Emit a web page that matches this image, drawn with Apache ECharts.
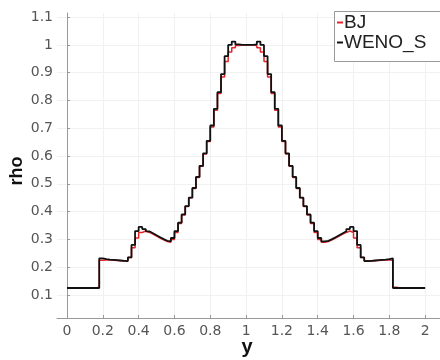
<!DOCTYPE html>
<html>
<head>
<meta charset="utf-8">
<script src="https://cdn.jsdelivr.net/npm/echarts@6/dist/echarts.min.js"></script>
<style>
  html, body { margin: 0; padding: 0; background: #fff; }
  #chart { width: 440px; height: 360px; }
</style>
</head>
<body>
<div id="chart"></div>
<script>
// cell centres along y (plus the two ends of the line)
var yPos = [0,
  0.01, 0.03, 0.05, 0.07, 0.09, 0.11, 0.13, 0.15, 0.17, 0.19,
  0.21, 0.23, 0.25, 0.27, 0.29, 0.31, 0.33, 0.35, 0.37, 0.39,
  0.41, 0.43, 0.45, 0.47, 0.49, 0.51, 0.53, 0.55, 0.57, 0.59,
  0.61, 0.63, 0.65, 0.67, 0.69, 0.71, 0.73, 0.75, 0.77, 0.79,
  0.81, 0.83, 0.85, 0.87, 0.89, 0.91, 0.93, 0.95, 0.97, 0.99,
  1.01, 1.03, 1.05, 1.07, 1.09, 1.11, 1.13, 1.15, 1.17, 1.19,
  1.21, 1.23, 1.25, 1.27, 1.29, 1.31, 1.33, 1.35, 1.37, 1.39,
  1.41, 1.43, 1.45, 1.47, 1.49, 1.51, 1.53, 1.55, 1.57, 1.59,
  1.61, 1.63, 1.65, 1.67, 1.69, 1.71, 1.73, 1.75, 1.77, 1.79,
  1.81, 1.83, 1.85, 1.87, 1.89, 1.91, 1.93, 1.95, 1.97, 1.99,
  2];

var rhoBJ = [0.125,
  0.125, 0.125, 0.125, 0.125, 0.125, 0.125, 0.125, 0.125, 0.128, 0.225,
  0.226, 0.226, 0.225, 0.224, 0.223, 0.222, 0.223, 0.235, 0.27, 0.305,
  0.325, 0.33, 0.325, 0.319, 0.312, 0.305, 0.298, 0.292, 0.29, 0.30,
  0.325, 0.357, 0.388, 0.418, 0.45, 0.483, 0.523, 0.563, 0.607, 0.652,
  0.705, 0.765, 0.825, 0.885, 0.94, 0.975, 0.99, 0.998, 1.0, 1.0,
  1.0, 1.0, 0.998, 0.99, 0.975, 0.94, 0.885, 0.825, 0.765, 0.705,
  0.652, 0.607, 0.563, 0.523, 0.483, 0.45, 0.418, 0.388, 0.357, 0.325,
  0.30, 0.29, 0.292, 0.298, 0.305, 0.312, 0.319, 0.325, 0.33, 0.325,
  0.305, 0.27, 0.235, 0.223, 0.222, 0.223, 0.224, 0.225, 0.226, 0.226,
  0.225, 0.128, 0.125, 0.125, 0.125, 0.125, 0.125, 0.125, 0.125, 0.125,
  0.125];

var rhoWENO = [0.125,
  0.125, 0.125, 0.125, 0.125, 0.125, 0.125, 0.125, 0.125, 0.125, 0.232,
  0.229, 0.227, 0.226, 0.225, 0.224, 0.223, 0.222, 0.235, 0.28, 0.33,
  0.345, 0.337, 0.329, 0.322, 0.315, 0.308, 0.301, 0.295, 0.293, 0.305,
  0.33, 0.36, 0.39, 0.42, 0.45, 0.485, 0.525, 0.565, 0.61, 0.655,
  0.71, 0.77, 0.83, 0.895, 0.96, 1.0, 1.012, 1.002, 1.0, 1.0,
  1.0, 1.0, 1.002, 1.012, 1.0, 0.96, 0.895, 0.83, 0.77, 0.71,
  0.655, 0.61, 0.565, 0.525, 0.485, 0.45, 0.42, 0.39, 0.36, 0.33,
  0.305, 0.293, 0.295, 0.301, 0.308, 0.315, 0.322, 0.329, 0.337, 0.345,
  0.33, 0.28, 0.235, 0.222, 0.223, 0.224, 0.225, 0.226, 0.227, 0.229,
  0.232, 0.125, 0.125, 0.125, 0.125, 0.125, 0.125, 0.125, 0.125, 0.125,
  0.125];

var xTicks = [0, 0.2, 0.4, 0.6, 0.8, 1, 1.2, 1.4, 1.6, 1.8, 2];
var yTicks = [0.1, 0.2, 0.3, 0.4, 0.5, 0.6, 0.7, 0.8, 0.9, 1, 1.1];

function pairs(ys) {
    return yPos.map(function (x, i) { return [x, ys[i]]; });
}

var labelFont = 'DejaVu Sans';
var chart = echarts.init(document.getElementById('chart'));

chart.setOption({
    animation: false,
    grid: { left: 57, top: 13, width: 385, height: 305 },
    xAxis: {
        type: 'value',
        min: -0.056,
        max: 2.083,
        axisLine: { show: true, lineStyle: { color: '#999', width: 1 } },
        axisTick: { show: true, inside: true, length: 3, customValues: xTicks, lineStyle: { color: '#999' } },
        axisLabel: { customValues: xTicks, color: '#555', fontSize: 14, fontFamily: labelFont, margin: 6 },
        splitLine: { show: true, lineStyle: { color: '#f1f1f1', width: 1 } }
    },
    yAxis: {
        type: 'value',
        min: 0.017,
        max: 1.115,
        axisLine: { show: true, lineStyle: { color: '#999', width: 1 } },
        axisTick: { show: true, inside: true, length: 3, customValues: yTicks, lineStyle: { color: '#999' } },
        axisLabel: { customValues: yTicks, color: '#555', fontSize: 14, fontFamily: labelFont, margin: 4 },
        splitLine: { show: true, lineStyle: { color: '#f1f1f1', width: 1 } }
    },
    legend: {
        data: ['BJ', 'WENO_S'],
        orient: 'vertical',
        left: 337,
        top: 13,
        padding: 0,
        itemGap: 1,
        itemWidth: 6,
        itemHeight: 2,
        icon: 'rect',
        z: 5,
        textStyle: { fontSize: 19, lineHeight: 19, color: '#222', fontFamily: 'Liberation Sans', padding: [0, 0, 0, -4] }
    },
    graphic: [
        {
            type: 'rect', z: 4,
            shape: { x: 334.5, y: 11.5, width: 120, height: 50 },
            style: { fill: '#fff', stroke: '#999', lineWidth: 1 }
        },
        {
            type: 'text', x: 17, y: 171, rotation: Math.PI / 2,
            style: { text: 'rho', font: 'bold 18px "Liberation Sans"', fill: '#111', align: 'center', verticalAlign: 'middle' }
        },
        {
            type: 'text', x: 247, y: 347,
            style: { text: 'y', font: 'bold 20px "Liberation Sans"', fill: '#111', align: 'center', verticalAlign: 'middle' }
        }
    ],
    series: [
        {
            name: 'BJ',
            type: 'line',
            step: 'middle',
            showSymbol: false,
            data: pairs(rhoBJ),
            itemStyle: { color: '#e4262b' },
            lineStyle: { color: '#e4262b', width: 1.5 }
        },
        {
            name: 'WENO_S',
            type: 'line',
            step: 'middle',
            showSymbol: false,
            data: pairs(rhoWENO),
            itemStyle: { color: '#111' },
            lineStyle: { color: '#111', width: 1.8 }
        }
    ]
});
</script>
</body>
</html>
